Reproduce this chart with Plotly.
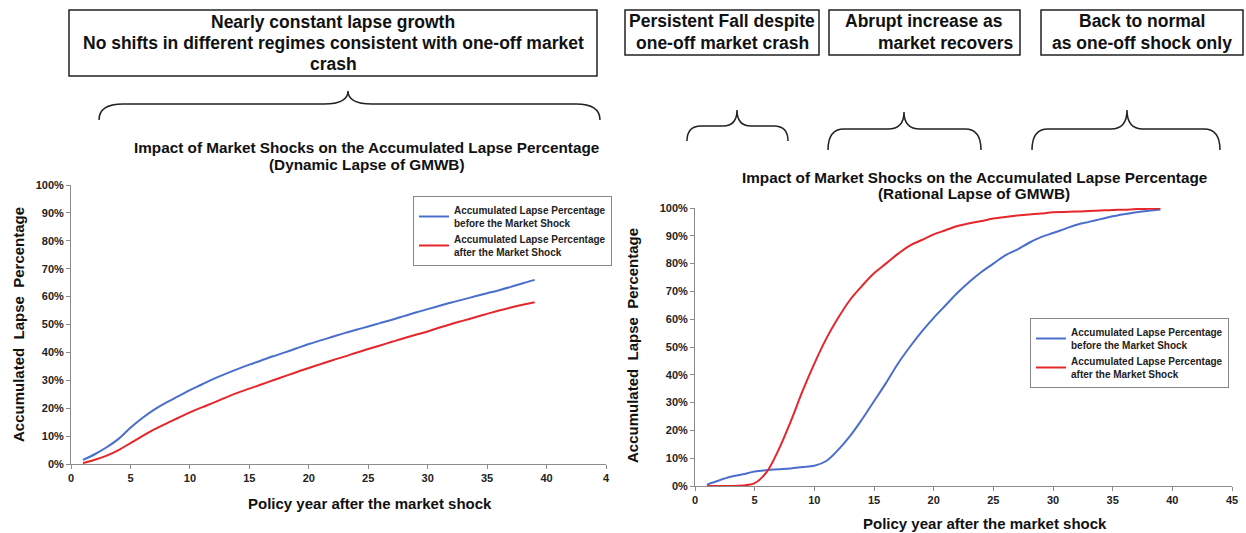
import plotly.graph_objects as go

W, H = 1246, 533

# Data -----------------------------------------------------------------
years = list(range(1, 40))

dyn_before = [1.5, 3.5, 6.0, 9.0, 13.0, 16.5, 19.5, 22.0, 24.2, 26.5,
              28.5, 30.5, 32.3, 34.0, 35.6, 37.1, 38.6, 40.0, 41.5, 43.0,
              44.3, 45.6, 46.9, 48.1, 49.3, 50.5, 51.7, 53.0, 54.3, 55.5,
              56.7, 57.9, 59.0, 60.1, 61.2, 62.3, 63.5, 64.8, 66.0]
dyn_after = [0.3, 1.5, 3.0, 5.0, 7.5, 10.0, 12.4, 14.5, 16.5, 18.5,
             20.3, 22.0, 23.8, 25.5, 27.0, 28.5, 30.0, 31.5, 33.0, 34.4,
             35.8, 37.2, 38.5, 39.9, 41.2, 42.5, 43.8, 45.1, 46.3, 47.5,
             48.9, 50.2, 51.4, 52.6, 53.8, 55.0, 56.1, 57.1, 58.0]

rat_before = [0.5, 2.0, 3.3, 4.2, 5.2, 5.7, 6.0, 6.3, 6.8, 7.3,
              9.0, 13.0, 18.0, 24.0, 30.5, 37.0, 44.0, 50.0, 55.5, 60.5,
              65.0, 69.5, 73.5, 77.0, 80.0, 83.0, 85.0, 87.5, 89.5, 91.0,
              92.5, 94.0, 95.0, 96.0, 97.0, 97.8, 98.5, 99.0, 99.5]
rat_after = [0.0, 0.0, 0.0, 0.2, 1.0, 5.0, 13.0, 23.0, 34.0, 44.0,
             53.0, 60.5, 67.0, 72.0, 76.5, 80.0, 83.5, 86.5, 88.5, 90.5,
             92.0, 93.5, 94.5, 95.3, 96.2, 96.8, 97.3, 97.7, 98.0, 98.5,
             98.6, 98.7, 98.9, 99.1, 99.3, 99.4, 99.6, 99.7, 99.8]

x_ticks = [0, 5, 10, 15, 20, 25, 30, 35, 40, 45]
x_ticktext_left = ["0", "5", "10", "15", "20", "25", "30", "35", "40", "4"]
y_ticks = [i / 10 for i in range(11)]

label_before = "Accumulated Lapse Percentage<br>before the Market Shock"
label_after = "Accumulated Lapse Percentage<br>after the Market Shock"

BLUE = "#4a6ecb"
RED = "#e5262b"
AXIS = "#8c8c8c"
FONT = "Liberation Sans, Arial, sans-serif"


def px_x(p):
    return p / W


def px_y(p):
    return 1 - p / H


fig = go.Figure()

for xs, ys, name, color, xa, ya, leg in [
    (years, dyn_before, label_before, BLUE, "x", "y", "legend"),
    (years, dyn_after, label_after, RED, "x", "y", "legend"),
    (years, rat_before, label_before, BLUE, "x2", "y2", "legend2"),
    (years, rat_after, label_after, RED, "x2", "y2", "legend2"),
]:
    fig.add_trace(go.Scatter(
        x=xs, y=[v / 100 for v in ys], name=name, mode="lines",
        line=dict(color=color, width=2, shape="spline"),
        xaxis=xa, yaxis=ya, legend=leg,
    ))

axis_common = dict(
    showgrid=False, zeroline=False, showline=True, linecolor=AXIS, linewidth=1,
    ticks="outside", ticklen=4, tickcolor=AXIS,
    tickfont=dict(family=FONT, size=11, color="#222", weight="bold"),
)

legend_common = dict(
    xanchor="left", yanchor="top",
    bordercolor="#888", borderwidth=1, bgcolor="white",
    font=dict(family=FONT, size=10, color="#222", weight="bold"),
    tracegroupgap=6, itemwidth=30,
)

fig.update_layout(
    width=W, height=H,
    margin=dict(l=0, r=0, t=0, b=0, autoexpand=False),
    paper_bgcolor="white", plot_bgcolor="white",
    font=dict(family=FONT, color="#111"),
    xaxis=dict(domain=[px_x(71), px_x(606)], range=[0, 45], tickvals=x_ticks,
               ticktext=x_ticktext_left, anchor="y", **axis_common),
    yaxis=dict(domain=[px_y(464), px_y(185)], range=[0, 1], tickvals=y_ticks,
               tickformat=".0%", anchor="x", **axis_common),
    xaxis2=dict(domain=[px_x(695), px_x(1232)], range=[0, 45], tickvals=x_ticks,
                anchor="y2", **axis_common),
    yaxis2=dict(domain=[px_y(486), px_y(208)], range=[0, 1], tickvals=y_ticks,
                tickformat=".0%", anchor="x2", **axis_common),
    legend=dict(x=px_x(413), y=px_y(196), **legend_common),
    legend2=dict(x=px_x(1030), y=px_y(318), **legend_common),
)


def text(x, y, s, size, xanchor="center", **kw):
    fig.add_annotation(x=px_x(x), y=px_y(y), xref="paper", yref="paper",
                       xanchor=xanchor, yanchor="middle",
                       text="<b>" + s + "</b>", showarrow=False,
                       font=dict(family=FONT, size=size, color="#111"), **kw)


# chart titles (one annotation per line for tight spacing)
text(366, 147, "Impact of Market Shocks on the Accumulated Lapse Percentage", 15.3)
text(366, 164, "(Dynamic Lapse of GMWB)", 15.3)
text(974, 177, "Impact of Market Shocks on the Accumulated Lapse Percentage", 15.3)
text(974, 193, "(Rational Lapse of GMWB)", 15.3)

# axis titles
text(370, 503, "Policy year after the market shock", 15)
text(985, 523, "Policy year after the market shock", 15)
text(18, 325, "Accumulated  Lapse  Percentage", 15, textangle=-90)
text(632, 346, "Accumulated  Lapse  Percentage", 15, textangle=-90)

# top boxes
boxes = [
    (69, 597, 10, 76),
    (625, 819, 10, 55),
    (829, 1020, 10, 55),
    (1041, 1243, 10, 55),
]
for x0, x1, y0, y1 in boxes:
    fig.add_shape(type="rect", xref="paper", yref="paper",
                  x0=px_x(x0), x1=px_x(x1), y0=px_y(y0), y1=px_y(y1),
                  line=dict(color="#222", width=1.5), fillcolor="white", layer="below")

BOX = 17.5
text(333, 22, "Nearly constant lapse growth", BOX)
text(333, 43, "No shifts in different regimes consistent with one-off market", BOX)
text(333, 64, "crash", BOX)
text(722, 21, "Persistent Fall despite", BOX)
text(722, 43, "one-off market crash", BOX)
text(924, 21, "Abrupt increase as", BOX)
text(1015, 43, "market recovers", BOX, xanchor="right")
text(1142, 21, "Back to normal", BOX)
text(1142, 43, "as one-off shock only", BOX)


def brace(x0, x1, xm, ytop, ymid, ybot, r=18):
    pts = lambda x, y: f"{px_x(x):.5f},{px_y(y):.5f}"
    path = (f"M {pts(x0, ybot)} Q {pts(x0, ymid)} {pts(x0 + r, ymid)} "
            f"L {pts(xm - r, ymid)} Q {pts(xm, ymid)} {pts(xm, ytop)} "
            f"Q {pts(xm, ymid)} {pts(xm + r, ymid)} "
            f"L {pts(x1 - r, ymid)} Q {pts(x1, ymid)} {pts(x1, ybot)}")
    fig.add_shape(type="path", xref="paper", yref="paper", path=path,
                  line=dict(color="#222", width=1.5))


brace(99, 600, 348, 91, 104, 120, r=24)
brace(687, 788, 737, 110, 126, 141, r=14)
brace(828, 981, 904, 112, 129, 150, r=16)
brace(1032, 1220, 1127, 110, 129, 150, r=16)

fig.write_html("out.html", config={"displayModeBar": False},
               post_script="document.body.style.margin='0px';")
